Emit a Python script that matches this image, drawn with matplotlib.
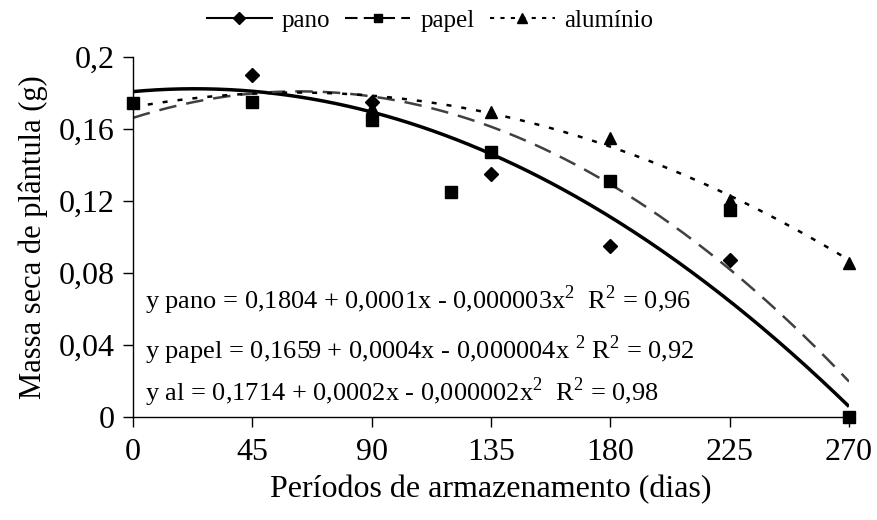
import numpy as np
import matplotlib
matplotlib.use("Agg")
import matplotlib.pyplot as plt

plt.rcParams['font.family'] = ['Liberation Serif', 'DejaVu Serif']
plt.rcParams['mathtext.fontset'] = 'custom'
plt.rcParams['mathtext.rm'] = 'Liberation Serif'

# observed points (days, g)
pano_x = [45, 90, 135, 180, 225]
pano_y = [0.1898, 0.1748, 0.1348, 0.095, 0.087]

papel_x = [0, 45, 90, 120, 135, 180, 225, 270]
papel_y = [0.1744, 0.175, 0.1647, 0.1248, 0.1472, 0.131, 0.1148, 0.0]

al_x = [90, 135, 180, 225, 270]
al_y = [0.1715, 0.1693, 0.1548, 0.1204, 0.0853]

# trend line coefficients (x^2, x, 1) as drawn
pano_fit = [-2.9e-6, 1.35e-4, 0.1806]
papel_fit = [-3.75e-6, 4.7e-4, 0.166]
al_fit = [-2.14e-6, 2.63e-4, 0.172]

x_ticks = [0, 45, 90, 135, 180, 225, 270]
y_ticks = [0, 0.04, 0.08, 0.12, 0.16, 0.2]
y_labels = ['0', '0,04', '0,08', '0,12', '0,16', '0,2']

eq_lines = [
    "y pano = 0,1804 + 0,0001x - 0,000003x$^2$  R$^2$ = 0,96",
    "y papel = 0,1659 + 0,0004x - 0,000004x $^2$ R$^2$ = 0,92",
    "y al = 0,1714 + 0,0002x - 0,000002x$^2$  R$^2$ = 0,98",
]
eq_y = [0.0648, 0.037, 0.0137]

fig = plt.figure(figsize=(8.78, 5.2), dpi=100)
ax = fig.add_axes([0.1515, 0.1987, 0.8155, 0.6923])

xs = np.linspace(0, 270, 300)
ax.plot(xs, np.polyval(pano_fit, xs), color='black', lw=2.5, solid_capstyle='butt')
ax.plot(xs, np.polyval(papel_fit, xs), color='#404040', lw=1.8, dashes=(7, 4))
ax.plot(xs, np.polyval(al_fit, xs), color='black', lw=1.8, dashes=(2, 4))

ax.plot(pano_x, pano_y, 'D', color='black', ms=7.5, clip_on=False, zorder=4)
ax.plot(papel_x, papel_y, 's', color='black', ms=8.5, clip_on=False, zorder=3)
ax.plot(al_x, al_y, '^', color='black', ms=9, clip_on=False, zorder=5)

# legend proxies
h1, = ax.plot([], [], color='black', lw=1.5, marker='D', ms=6, label='pano')
h2, = ax.plot([], [], color='black', lw=1.5, marker='s', ms=6, dashes=(6, 3), label='papel')
h3, = ax.plot([], [], color='black', lw=1.5, marker='^', ms=7, dashes=(2, 3), label='alumínio')
fig.legend(handles=[h1, h2, h3], loc='upper center', bbox_to_anchor=(0.49, 1.025),
           ncol=3, frameon=False, fontsize=18, handlelength=2.6, columnspacing=0.6,
           handletextpad=0.4)

for s, yy in zip(eq_lines, eq_y):
    ax.text(4.5, yy, s, fontsize=19, va='center', ha='left')

ax.set_xlim(0, 270)
ax.set_ylim(0, 0.2)
ax.set_xticks(x_ticks)
ax.set_xticklabels([str(v) for v in x_ticks])
ax.set_yticks(y_ticks)
ax.set_yticklabels(y_labels)
ax.tick_params(direction='out', length=7, width=1, labelsize=23, pad=6)
ax.tick_params(axis='x', pad=8)

for side in ['top', 'right']:
    ax.spines[side].set_visible(False)
for side in ['left', 'bottom']:
    ax.spines[side].set_linewidth(1)

ax.set_xlabel('Períodos de armazenamento (dias)', fontsize=23, labelpad=6)
ax.set_ylabel('Massa seca de plântula (g)', fontsize=22, labelpad=8)

fig.savefig('out.png', dpi=100)
